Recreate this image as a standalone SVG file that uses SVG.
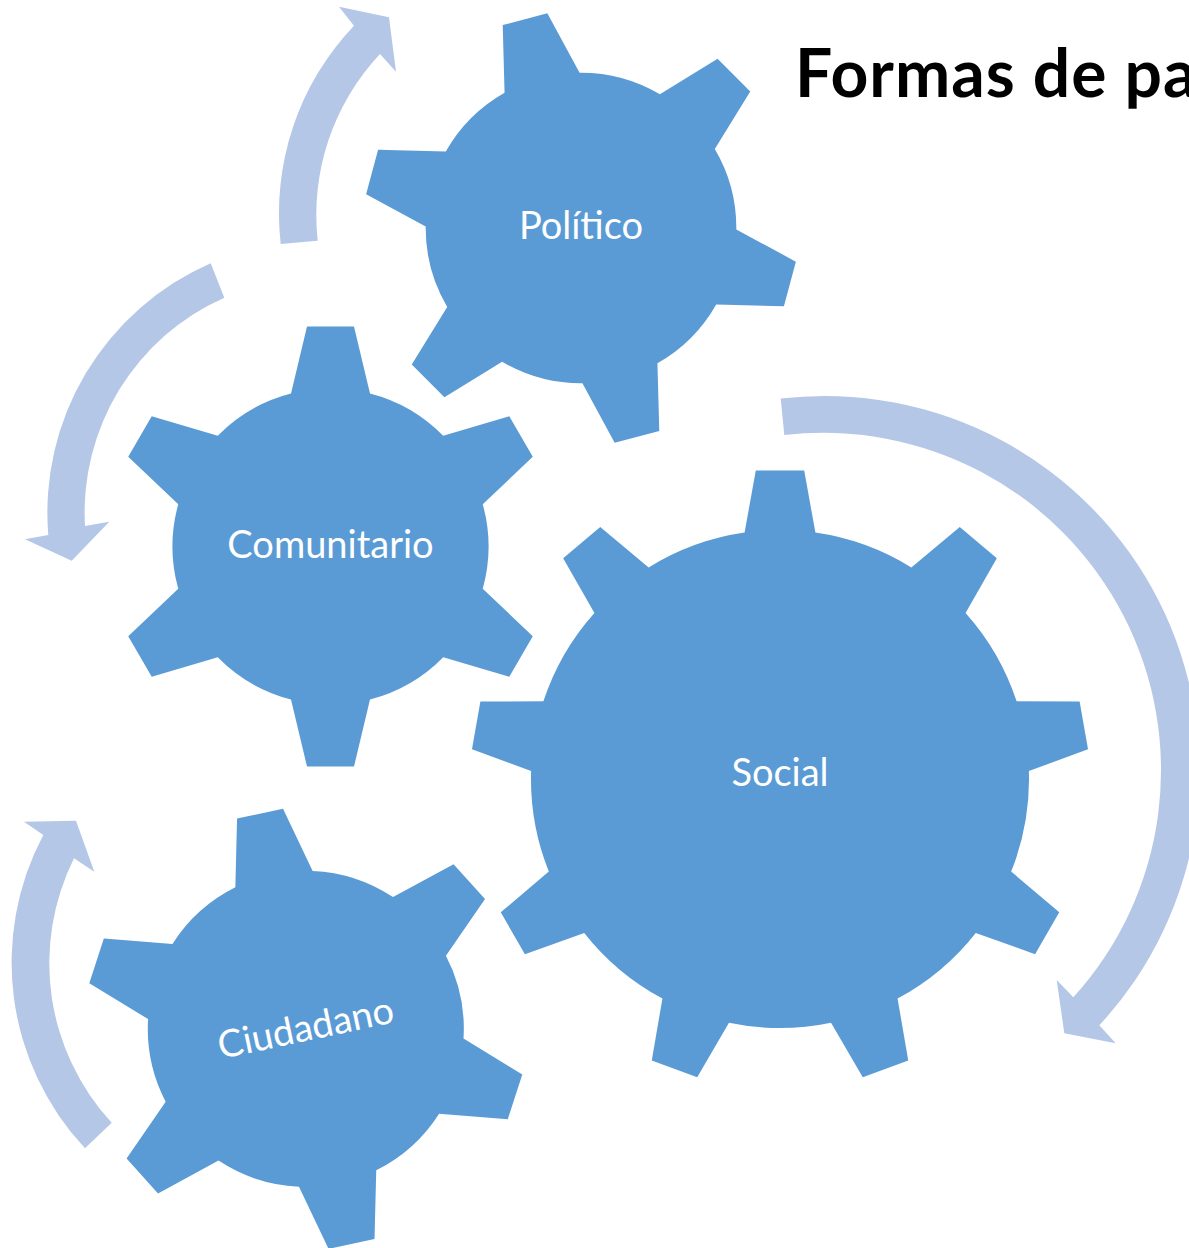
<svg xmlns="http://www.w3.org/2000/svg" xmlns:xlink="http://www.w3.org/1999/xlink" width="1189" height="1248" viewBox="0 0 1189 1248">
  <style>
    .gear { fill: #5B9BD5; }
    .arrow { fill: #B4C7E7; }
    .label { fill: #FFFFFF; font-family: Lato, "Open Sans", "Liberation Sans", sans-serif; font-size: 38px; text-anchor: middle; }
    .title { fill: #000000; font-family: Lato, "Open Sans", "Liberation Sans", sans-serif; font-weight: bold; font-size: 66px; letter-spacing: 1px; }
  </style>
  <defs>
    <path id="gear6" d="M -39.5,-153 L -23.5,-220 L 23.5,-220 L 39.5,-153 A 158 158 0 0 1 112.75,-110.71 L 178.78,-130.35 L 202.28,-89.65 L 152.25,-42.29 A 158 158 0 0 1 152.25,42.29 L 202.28,89.65 L 178.78,130.35 L 112.75,110.71 A 158 158 0 0 1 39.5,153 L 23.5,220 L -23.5,220 L -39.5,153 A 158 158 0 0 1 -112.75,110.71 L -178.78,130.35 L -202.28,89.65 L -152.25,42.29 A 158 158 0 0 1 -152.25,-42.29 L -202.28,-89.65 L -178.78,-130.35 L -112.75,-110.71 A 158 158 0 0 1 -39.5,-153 Z"/>
    <path id="gear9" d="M -35.4,-246.5 L -24.2,-308.5 L 24.2,-308.5 L 35.4,-246.5 A 249 249 0 0 1 131.33,-211.58 L 179.76,-251.88 L 216.84,-220.77 L 185.57,-166.07 A 249 249 0 0 1 236.61,-77.67 L 299.61,-77.40 L 308.02,-29.74 L 248.90,-7.94 A 249 249 0 0 1 231.18,92.59 L 279.27,133.29 L 255.07,175.21 L 195.78,153.91 A 249 249 0 0 1 117.57,219.53 L 128.25,281.62 L 82.77,298.17 L 51.04,243.74 A 249 249 0 0 1 -51.04,243.74 L -82.77,298.17 L -128.25,281.62 L -117.57,219.53 A 249 249 0 0 1 -195.78,153.91 L -255.07,175.21 L -279.27,133.29 L -231.18,92.59 A 249 249 0 0 1 -248.90,-7.94 L -308.02,-29.74 L -299.61,-77.40 L -236.61,-77.67 A 249 249 0 0 1 -185.57,-166.07 L -216.84,-220.77 L -179.76,-251.88 L -131.33,-211.58 A 249 249 0 0 1 -35.4,-246.5 Z"/>
  </defs>

  <g id="connectors">
    <path id="arrow-politico" class="arrow" d="M 280.7,244 A 272 272 0 0 1 354,25.7 L 339,6.7 L 389,17.3 L 396,71.7 L 380,54 A 235 235 0 0 0 317.7,240.7 Z"/>
    <path id="arrow-comunitario" class="arrow" d="M 210.7,263.3 A 272 272 0 0 0 48.3,535 L 25,539.3 L 71.7,560.7 L 109.3,521.7 L 85,526 A 235 235 0 0 1 224.3,297.7 Z"/>
    <path id="arrow-ciudadano" class="arrow" d="M 85,1148.3 A 272 272 0 0 1 43.3,835 L 24,821.7 L 76,820.7 L 94.3,871.7 L 74,858.3 A 235 235 0 0 0 111.7,1122.7 Z"/>
    <path id="arrow-social" class="arrow" d="M 780.7,398.6 A 374.5 374.5 0 0 1 1099.3,1025.3 L 1115.7,1043.3 L 1064.3,1033.3 L 1056.7,980 L 1073.3,997.3 A 337.5 337.5 0 0 0 784.3,435.1 Z"/>
  </g>

  <g id="node-politico">
    <use xlink:href="#gear6" href="#gear6" class="gear" transform="translate(581,228) rotate(-15) scale(0.983)"/>
    <text class="label" x="581" y="239">Político</text>
  </g>

  <g id="node-comunitario">
    <use xlink:href="#gear6" href="#gear6" class="gear" transform="translate(330.5,546.5)"/>
    <text class="label" x="330.5" y="558">Comunitario</text>
  </g>

  <g id="node-social">
    <use xlink:href="#gear9" href="#gear9" class="gear" transform="translate(780,779)"/>
    <text class="label" x="780" y="786">Social</text>
  </g>

  <g id="node-ciudadano">
    <use xlink:href="#gear6" href="#gear6" class="gear" transform="translate(305.8,1028.8) rotate(-12)"/>
    <text class="label" transform="translate(305.8,1028.8) rotate(-12)" x="0" y="12">Ciudadano</text>
  </g>

  <g id="title">
    <text class="title" x="795" y="97">Formas de pa</text>
  </g>
</svg>
